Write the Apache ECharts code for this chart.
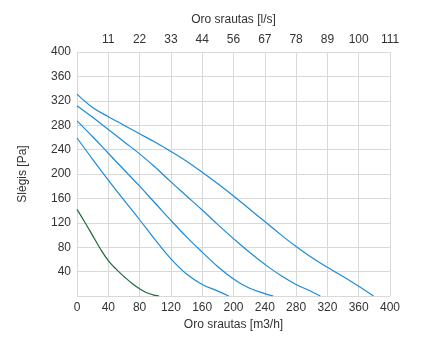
<!DOCTYPE html>
<html>
<head>
<meta charset="utf-8">
<script src="https://cdn.jsdelivr.net/npm/echarts@6/dist/echarts.min.js"></script>
<style>html,body{margin:0;padding:0;background:#fff;}#c{width:442px;height:361px;}</style>
</head>
<body>
<div id="c"></div>
<script>
const topLabels = ['', '11', '22', '33', '44', '56', '67', '78', '89', '100', '111'];
const curve1 = [[0,331],[20,309],[40,294],[60,280],[80,266],[100,252],[120,237],[140,221],[160,203],[180,184],[200,164],[220,143],[240,122],[260,101],[280,81],[300,63],[320,47],[340,32],[360,16],[379,0]];
const curve2 = [[0,312],[20,293],[40,273],[60,253],[80,233],[100,211],[120,187],[140,164],[160,141],[180,117],[200,94],[220,72],[240,52],[260,34],[280,19],[300,7],[311,0]];
const curve3 = [[0,287],[20,261],[40,234],[60,207],[80,180],[100,152],[120,124],[140,97],[160,72],[180,48],[200,28],[220,13],[240,4],[251,0]];
const curve4 = [[0,259],[20,224],[40,190],[60,157],[80,125],[100,92],[120,61],[140,36],[160,19],[180,8],[194,0]];
const curveGreen = [[0,142],[10,121],[20,99],[30,77],[40,58],[50,44],[60,32],[70,21],[80,12],[90,5],[100,1],[105,0]];

const blue = '#1a8cd8';
const green = '#1a6b3c';
const txt = '#333';
const font = 'Liberation Sans, Arial, sans-serif';
const gridColor = '#d9d9d9';

const chart = echarts.init(document.getElementById('c'), null, {renderer: 'canvas'});
function ser(d, c) {
  return {type: 'line', data: d, smooth: 0.4, showSymbol: false, symbol: 'none',
    lineStyle: {color: c, width: 1.2}, xAxisIndex: 0, yAxisIndex: 0, silent: true};
}
chart.setOption({
  animation: false,
  backgroundColor: '#fff',
  grid: {left: 77, right: 52, top: 52, bottom: 65, containLabel: false},
  xAxis: [{
    type: 'value', min: 0, max: 400, interval: 40, position: 'bottom',
    name: 'Oro srautas [m3/h]', nameLocation: 'middle', nameGap: 23,
    nameTextStyle: {color: txt, fontSize: 12, fontFamily: font},
    axisLine: {show: false}, axisTick: {show: false},
    axisLabel: {color: txt, fontSize: 12, fontFamily: font, margin: 6},
    splitLine: {show: true, lineStyle: {color: gridColor, width: 1}}
  }, {
    type: 'value', min: 0, max: 400, interval: 40, position: 'top',
    name: 'Oro srautas [l/s]', nameLocation: 'middle', nameGap: 26,
    nameTextStyle: {color: txt, fontSize: 12, fontFamily: font},
    axisLine: {show: false}, axisTick: {show: false},
    axisLabel: {color: txt, fontSize: 12, fontFamily: font, margin: 6,
      formatter: v => topLabels[Math.round(v / 40)] || ''},
    splitLine: {show: false}
  }],
  yAxis: [{
    type: 'value', min: 0, max: 400, interval: 40,
    name: 'Slėgis [Pa]', nameLocation: 'middle', nameGap: 48, nameRotate: 90,
    nameTextStyle: {color: txt, fontSize: 12, fontFamily: font},
    axisLine: {show: false}, axisTick: {show: false},
    axisLabel: {color: txt, fontSize: 12, fontFamily: font, margin: 6,
      formatter: v => v === 0 ? '' : String(v)},
    splitLine: {show: true, lineStyle: {color: gridColor, width: 1}}
  }],
  series: [ser(curve1, blue), ser(curve2, blue), ser(curve3, blue), ser(curve4, blue), ser(curveGreen, green)]
});
</script>
</body>
</html>
